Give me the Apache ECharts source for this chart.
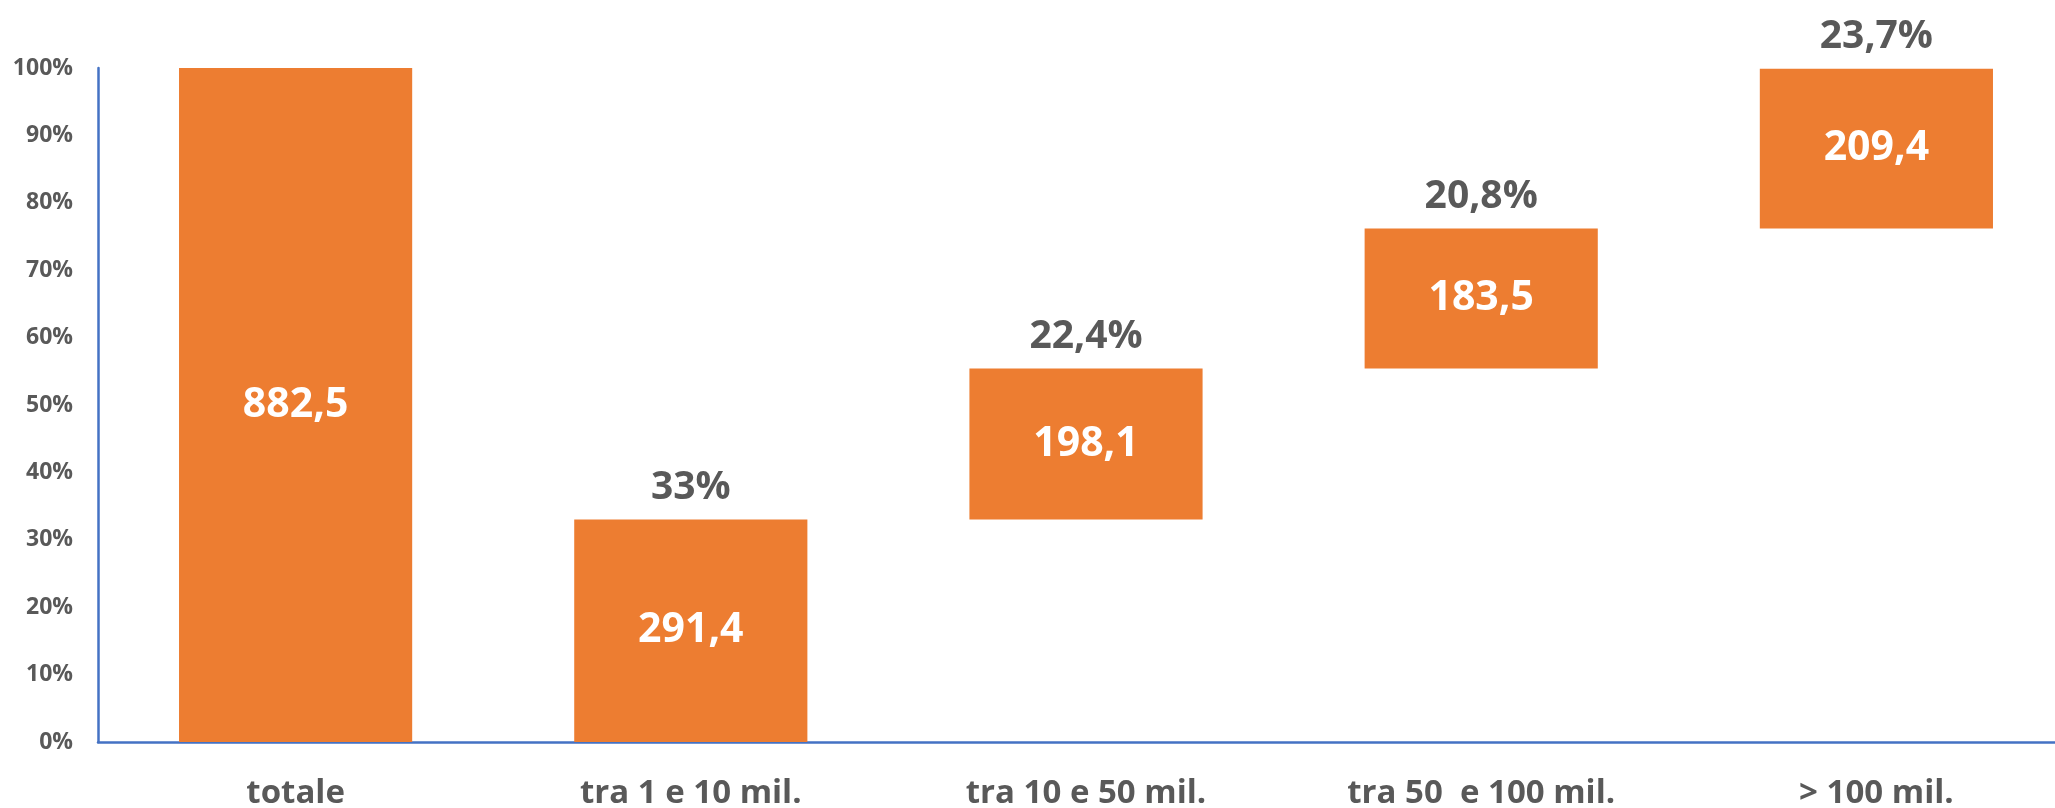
<!DOCTYPE html>
<html>
<head>
<meta charset="utf-8">
<script src="https://cdn.jsdelivr.net/npm/echarts@6/dist/echarts.min.js"></script>
<style>
  html, body { margin: 0; padding: 0; background: #fff; }
  #chart { width: 2055px; height: 808px; }
</style>
</head>
<body>
<div id="chart"></div>
<script>
// categorie e valori (quota % e importo)
const categories = ['totale', 'tra 1 e 10 mil.', 'tra 10 e 50 mil.', 'tra 50  e 100 mil.', '> 100 mil.']
const baseValues = [0, 0, 33, 55.4, 76.2]
const shareValues = [100, 33, 22.4, 20.8, 23.7]
const amounts = [882.5, 291.4, 198.1, 183.5, 209.4]
const yTicks = [0, 10, 20, 30, 40, 50, 60, 70, 80, 90, 100]

const toIt = v => String(v).replace('.', ',')
const grey = '#595959'
const blue = '#4472C4'
const orange = '#ED7D31'
const font = '"Open Sans", "DejaVu Sans", sans-serif'

const myChart = echarts.init(document.getElementById('chart'))
myChart.setOption({
  animation: false,
  grid: {
    left: 98,
    top: 68,
    bottom: 66,
    width: 1976,
    outerBoundsMode: 'none',
    containLabel: false
  },
  xAxis: {
    type: 'category',
    data: categories,
    axisLine: { lineStyle: { color: blue, width: 2.5 } },
    axisTick: { show: false },
    axisLabel: {
      margin: 35,
      color: grey,
      fontFamily: font,
      fontWeight: 'bold',
      fontSize: 33
    }
  },
  yAxis: {
    type: 'value',
    min: yTicks[0],
    max: yTicks[yTicks.length - 1],
    interval: 10,
    splitLine: { show: false },
    axisTick: { show: false },
    axisLine: { show: true, lineStyle: { color: blue, width: 2.5 } },
    axisLabel: {
      margin: 25,
      color: grey,
      fontFamily: font,
      fontWeight: 'bold',
      fontSize: 23,
      formatter: '{value}%'
    }
  },
  series: [
    {
      // base trasparente
      type: 'bar',
      stack: 'w',
      barWidth: '59%',
      itemStyle: { color: 'transparent' },
      data: baseValues,
      silent: true
    },
    {
      type: 'bar',
      stack: 'w',
      barWidth: '59%',
      itemStyle: { color: orange },
      data: shareValues,
      label: {
        show: true,
        position: 'inside',
        color: '#fff',
        fontFamily: font,
        fontWeight: 'bold',
        fontSize: 41,
        formatter: p => toIt(amounts[p.dataIndex])
      }
    },
    {
      // etichette percentuali sopra le barre
      type: 'bar',
      stack: 'w',
      barWidth: '59%',
      itemStyle: { color: 'transparent' },
      data: shareValues.map(() => 0),
      silent: true,
      label: {
        show: true,
        position: 'top',
        distance: 12,
        color: grey,
        fontFamily: font,
        fontWeight: 'bold',
        fontSize: 39,
        formatter: p => p.dataIndex === 0 ? '' : toIt(shareValues[p.dataIndex]) + '%'
      }
    }
  ]
})
</script>
</body>
</html>
